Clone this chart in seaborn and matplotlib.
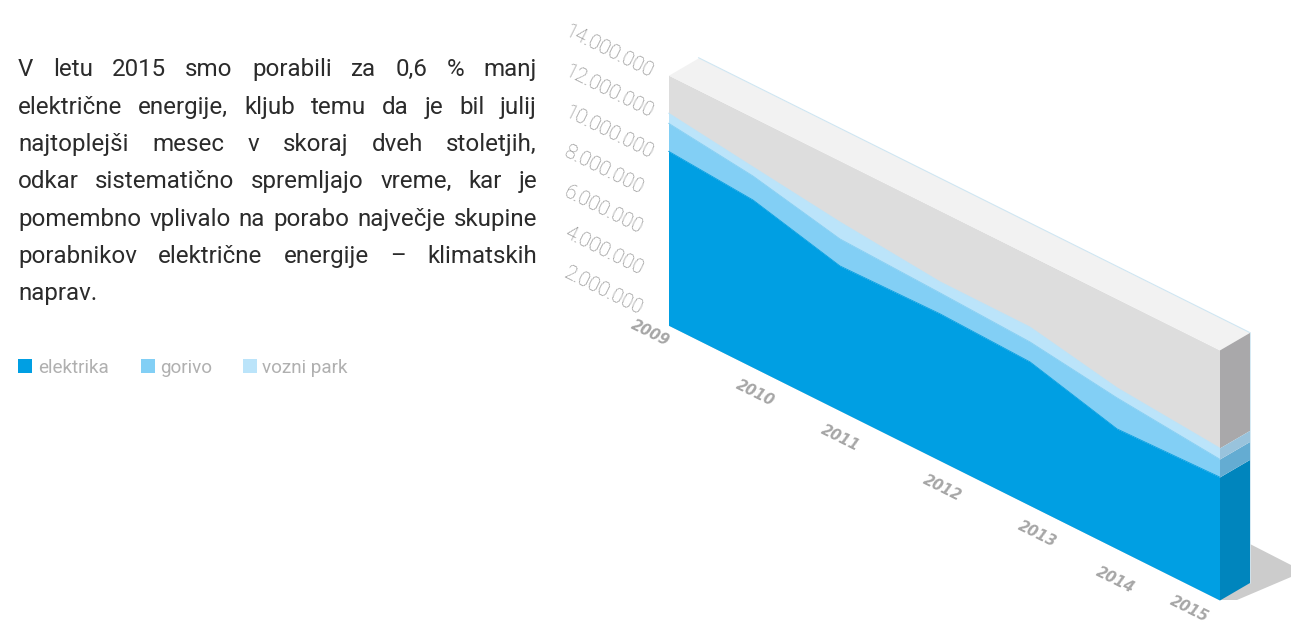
import matplotlib
matplotlib.use("Agg")
import matplotlib.pyplot as plt
from matplotlib.transforms import Affine2D
from matplotlib.patches import Rectangle, Polygon
import numpy as np
import pandas as pd
import seaborn as sns

# ---------- data (millions of units) ----------
years = [2009, 2010, 2011, 2012, 2013, 2014, 2015]
elektrika = [8.63, 8.30, 7.18, 7.28, 7.12, 5.95, 6.10]
gorivo = [1.39, 1.19, 1.34, 1.04, 0.99, 1.54, 0.89]
vozni_park = [0.50, 0.45, 0.84, 0.55, 0.74, 0.50, 0.55]
value_ticks = [2, 4, 6, 8, 10, 12, 14]
value_labels = ["2.000.000", "4.000.000", "6.000.000", "8.000.000",
                "10.000.000", "12.000.000", "14.000.000"]
wall_top = 12.4
# spacing of the years along the original's slanted axis (not uniform there)
year_axis = [0.0, 0.1533, 0.3112, 0.4927, 0.6561, 0.8140, 1.0]

paragraph = [
    "V letu 2015 smo porabili za 0,6 % manj",
    "električne energije, kljub temu da je bil julij",
    "najtoplejši mesec v skoraj dveh stoletjih,",
    "odkar sistematično spremljajo vreme, kar je",
    "pomembno vplivalo na porabo največje skupine",
    "porabnikov električne energije – klimatskih",
    "naprav.",
]
series_names = ["elektrika", "gorivo", "vozni park"]

# ---------- style / layout ----------
C_SERIES = ["#009fe3", "#82cff5", "#bbe4fa"]
C_SIDE = ["#0085bd", "#64acd2", "#99c3dc"]
C_WALL, C_WALL_SIDE, C_TOP = "#dddddd", "#a9a8aa", "#f2f2f2"
W, H = 1291, 623
X0, Y0, X1, Y1 = 668.5, 325.3, 1219.5, 600.0
K = 20.17          # px per million
DX, DY = 30.0, -17.5  # depth of the slab
FONT = "Roboto"

sns.set_theme(style="white")
plt.rcParams["font.family"] = [FONT, "DejaVu Sans"]

fig = plt.figure(figsize=(W / 100, H / 100), dpi=100, facecolor="white")
ax = fig.add_axes([0, 0, 1, 1])
ax.set_xlim(0, W)
ax.set_ylim(H, 0)
ax.set_autoscale_on(False)
ax.axis("off")

# (t along the wall, value) -> pixels
front = Affine2D.from_values(X1 - X0, Y1 - Y0, 0, -K, X0, Y0) + ax.transData
# (depth, value) -> pixels on the right end of the slab
side = Affine2D.from_values(DX, DY, 0, -K, X1, Y1) + ax.transData
# (t, depth) -> pixels on the top of the slab
top = Affine2D.from_values(X1 - X0, Y1 - Y0, DX, DY, X0, Y0 - K * wall_top) + ax.transData

t = np.array(year_axis)
tops = np.cumsum([elektrika, gorivo, vozni_park], axis=0)
lows = np.vstack([np.zeros(len(t)), tops[:-1]])

# shadow on the floor
ax.add_patch(Polygon([(1219.5, 600), (1237, 600), (1291, 577), (1291, 565), (1250, 544), (1230, 560)],
                     closed=True, fc="#cccccc", ec="none", zorder=0))

# wall, top and end faces
ax.fill_between([0, 1], 0, wall_top, color=C_WALL, lw=0, transform=front, zorder=1)
ax.fill_between([0, 1], 0, 1, color=C_TOP, lw=0, transform=top, zorder=1)
ax.fill_between([0, 1], tops[-1, -1], wall_top, color=C_WALL_SIDE, lw=0, transform=side, zorder=1)
ax.plot([0, 1], [1, 1], color="#cfe6f2", lw=0.8, transform=top, zorder=2)
ax.plot([1, 1], [0, wall_top], color="#cfe6f2", lw=0.6, transform=side, zorder=2)

# stacked bands
for i in range(3):
    ax.fill_between(t, lows[i], tops[i], color=C_SERIES[i], lw=0, transform=front, zorder=3 + i)
    ax.fill_between([0, 1], lows[i, -1], tops[i, -1], color=C_SIDE[i], lw=0, transform=side, zorder=3 + i)

# upper edge of each band through seaborn
df = pd.DataFrame({
    "t": np.tile(t, 3),
    "top": tops.ravel(),
    "series": np.repeat(series_names, len(t)),
})
sns.lineplot(data=df, x="t", y="top", hue="series", palette=dict(zip(series_names, C_SERIES)),
             estimator=None, sort=False, legend=False, lw=0.6, transform=front, ax=ax, zorder=7)
ax.set_xlim(0, W)
ax.set_ylim(H, 0)

# value labels
for v, lab in zip(value_ticks, value_labels):
    ax.annotate(lab, (0, v), xycoords=front, xytext=(-105.5, 8), textcoords="offset pixels",
                rotation=-26.5, rotation_mode="anchor", ha="left", va="baseline",
                family="Roboto", weight="light", fontsize=14.4, color="#808080", zorder=9)

# year labels (centres relative to their position on the axis; y up in pixels)
year_off = [(-18, -8), (2, -26), (0, -27), (2, -27), (7, -29), (-2, -31), (-30, -9)]
for tt, y, off in zip(t, years, year_off):
    ax.annotate(str(y), (tt, 0), xycoords=front, xytext=off, textcoords="offset pixels",
                rotation=-26.5, rotation_mode="anchor", ha="center", va="center",
                family="DejaVu Sans", weight="bold", style="italic", fontsize=10.6,
                color="#a6a6a6", zorder=9)

# justified paragraph
fig.canvas.draw()
rend = fig.canvas.get_renderer()
LEFT, RIGHT = 18.0, 537.0
baselines = [76, 114, 151, 188, 226, 263, 300]
FS = 17.4
for k, (line, by) in enumerate(zip(paragraph, baselines)):
    words = line.split(" ")
    arts = [ax.text(0, by, w, fontsize=FS, color="#2b2b2b", ha="left", va="baseline") for w in words]
    widths = [a.get_window_extent(rend).width for a in arts]
    if k < len(paragraph) - 1:
        gap = (RIGHT - LEFT - sum(widths)) / (len(words) - 1)
    else:
        gap = 6.0
    x = LEFT
    for a, wd in zip(arts, widths):
        a.set_x(x)
        x += wd + gap

# legend
sq_x = [18, 141, 243]
tx_x = [38, 160, 262]
for name, c, sx, tx in zip(series_names, C_SERIES, sq_x, tx_x):
    ax.add_patch(Rectangle((sx, 359), 14, 14, fc=c, ec="none"))
    ax.text(tx, 373, name, fontsize=13.6, color="#b0b0b0", ha="left", va="baseline")

fig.savefig("out.png", dpi=100, facecolor="white")
